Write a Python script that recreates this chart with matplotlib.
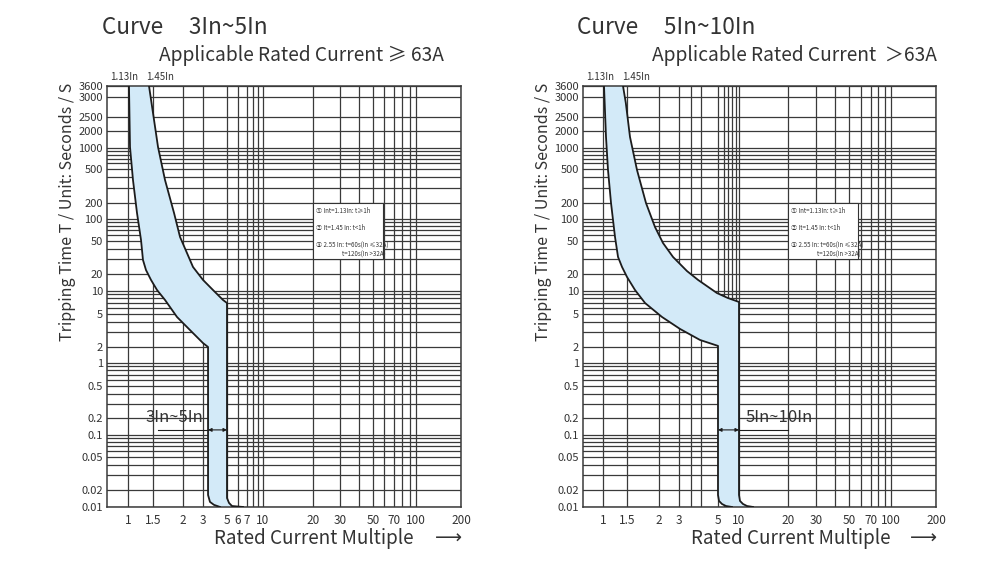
import numpy as np
import matplotlib.pyplot as plt
from matplotlib.patches import Rectangle

plt.rcParams['font.family'] = ['Noto Sans CJK SC', 'DejaVu Sans']

# time axis (seconds): labelled lines and the unlabelled lines in between
t_ticks = [0.01, 0.02, 0.05, 0.1, 0.2, 0.5, 1, 2, 5, 10, 20, 50, 100, 200,
           500, 1000, 2000, 2500, 3000, 3600]
t_labels = ['0.01', '0.02', '0.05', '0.1', '0.2', '0.5', '1', '2', '5', '10',
            '20', '50', '100', '200', '500', '1000', '2000', '2500', '3000', '3600']
t_minor = [0.03, 0.04, 0.06, 0.07, 0.08, 0.09, 0.3, 0.4, 0.6, 0.7, 0.8, 0.9,
           3, 4, 6, 7, 8, 9, 30, 40, 60, 70, 80, 90, 300, 400, 600, 700, 800, 900]

# current multiple axis
b_ticks = [1, 1.5, 2, 3, 5, 6, 7, 10, 20, 30, 50, 70, 100, 200]
b_minor = [8, 9, 40, 60, 80, 90]
c_ticks = [1, 1.5, 2, 3, 5, 10, 20, 30, 50, 70, 100, 200]
c_minor = [3.5, 4, 6, 7, 8, 9, 40, 60, 80, 90]

# 3In~5In band: 1.13In edge (cold) and 1.45In edge (hot)
b_cold_x = [1.016, 1.033, 1.084, 1.157, 1.235, 1.275, 1.339, 1.452, 1.559, 1.683,
            1.888, 2.304, 3.0, 3.34, 3.34, 3.48, 3.79, 4.31]
b_cold_t = [3600, 1040, 372, 130, 51.6, 29.5, 22.3, 15.7, 10.4, 7.63,
            4.6, 3.2, 2.23, 2.0, 0.0163, 0.0123, 0.0109, 0.01]
b_hot_x = [1.406, 1.5, 1.574, 1.683, 1.835, 1.944, 2.168, 2.449, 3.0, 3.71,
           4.59, 5.0, 5.0, 5.17, 5.43, 6.54]
b_hot_t = [3600, 2593, 1040, 372, 130, 56.7, 35.8, 24.3, 15.7, 10.4,
           7.63, 6.96, 0.0144, 0.0118, 0.0104, 0.01]

# 5In~10In band
c_cold_x = [1.017, 1.052, 1.088, 1.145, 1.225, 1.289, 1.379, 1.5, 1.612, 1.764,
            2.125, 3.04, 3.95, 5.0, 5.0, 5.17, 5.70, 6.51, 7.93]
c_cold_t = [3600, 1566, 487, 200, 56.7, 32.1, 24.3, 17.7, 10.4, 6.96,
            4.6, 3.30, 2.43, 2.06, 0.0163, 0.0128, 0.0113, 0.0104, 0.01]
c_hot_x = [1.402, 1.47, 1.541, 1.641, 1.779, 1.929, 2.168, 2.656, 3.33, 3.85,
           4.93, 6.9, 10.0, 10.0, 10.14, 10.58, 11.2, 12.2]
c_hot_t = [3600, 2842, 1566, 487, 200, 77.7, 47.3, 32.1, 21.7, 15.7,
           9.4, 8.1, 7.18, 0.0163, 0.0128, 0.0113, 0.0104, 0.01]

legend_lines = ['\u2460 Int=1.13In: t\u22651h', '\u2461 It=1.45 In: t<1h',
                '\u2462 2.55 In: t=60s(In \u226432A)', 't=120s(In >32A)']

# the printed chart paper is not a true log grid, so map via knots (pixels)
t_knot_px = [0, 17, 50, 72, 89, 121, 144, 160, 193, 216, 233, 266, 288, 304,
             338, 359, 376, 390, 410, 421]
b_knot_x = [0.7, 1, 1.5, 2, 3, 5, 6, 7, 10, 20, 30, 50, 70, 100, 200]
b_knot_px = [0, 21, 46, 76, 96, 120, 131, 140, 156, 206, 233, 266, 287, 309, 354]
c_knot_x = [0.7, 1, 1.5, 2, 3, 5, 10, 20, 30, 50, 70, 100, 200]
c_knot_px = [0, 20, 44, 76, 96, 135, 156, 205, 233, 266, 288, 308, 353]

INK = '#333333'
LINE = '#1c1c1c'
BLUE = '#d3eaf8'


def paper_scale(values, px):
    lv = np.log10(values)

    def fwd(v):
        return np.interp(np.log10(np.clip(v, 1e-9, None)), lv, px)

    def inv(p):
        return 10 ** np.interp(p, px, lv)
    return fwd, inv


def draw_chart(ax, knot_x, knot_px, ticks, minor, cold_x, cold_t, hot_x, hot_t):
    ax.set_xscale('function', functions=paper_scale(knot_x, knot_px))
    ax.set_yscale('function', functions=paper_scale(t_ticks, t_knot_px))
    ax.set_xlim(0.7, 200)
    ax.set_ylim(0.01, 3600)
    ax.set_xticks(ticks)
    ax.set_xticklabels([f'{v:g}' for v in ticks])
    ax.set_xticks(minor, minor=True)
    ax.set_yticks(t_ticks)
    ax.set_yticklabels(t_labels)
    ax.set_yticks(t_minor, minor=True)
    ax.tick_params(which='both', length=0)
    ax.tick_params(axis='x', labelsize=8.5, colors=INK, pad=5)
    ax.tick_params(axis='y', labelsize=8, colors=INK, pad=3)
    ax.set_axisbelow(True)
    ax.grid(which='both', color='#3a3a3a', lw=0.9)
    for s in ax.spines.values():
        s.set_color('#3a3a3a')
        s.set_linewidth(1.1)

    ax.fill(np.r_[cold_x, hot_x[::-1]], np.r_[cold_t, hot_t[::-1]],
            color=BLUE, lw=0, zorder=2)
    ax.plot(cold_x, cold_t, color=LINE, lw=1.3, zorder=3)
    ax.plot(hot_x, hot_t, color=LINE, lw=1.3, zorder=3)

    ax.text(0.048, 1.021, '1.13In', transform=ax.transAxes, fontsize=7,
            color=INK, ha='center', va='center')
    ax.text(0.15, 1.021, '1.45In', transform=ax.transAxes, fontsize=7,
            color=INK, ha='center', va='center')

    # small legend box
    ax.add_patch(Rectangle((0.582, 0.589), 0.198, 0.133, transform=ax.transAxes,
                           facecolor='white', edgecolor=INK, lw=0.8, zorder=4))
    ys = [0.703, 0.663, 0.622, 0.599]
    xs = [0.590, 0.590, 0.590, 0.664]
    for x, y, s in zip(xs, ys, legend_lines):
        ax.text(x, y, s, transform=ax.transAxes, fontsize=4.4, color=INK,
                va='center', ha='left', zorder=5)


fig = plt.figure(figsize=(10, 5.63), dpi=100)
ax_b = fig.add_axes([0.107, 0.0995, 0.354, 0.7478])
ax_c = fig.add_axes([0.583, 0.0995, 0.353, 0.7478])

draw_chart(ax_b, b_knot_x, b_knot_px, b_ticks, b_minor,
           b_cold_x, b_cold_t, b_hot_x, b_hot_t)
draw_chart(ax_c, c_knot_x, c_knot_px, c_ticks, c_minor,
           c_cold_x, c_cold_t, c_hot_x, c_hot_t)

# instantaneous range markers
arrow = dict(arrowstyle='<|-|>', color=LINE, lw=0.8, shrinkA=0, shrinkB=0,
             mutation_scale=5)
ax_b.annotate('', xy=(3.34, 0.123), xytext=(5.0, 0.123), arrowprops=arrow, zorder=5)
ax_b.plot([1.57, 3.34], [0.123, 0.123], color=LINE, lw=0.8, zorder=5)
ax_b.text(3.0, 0.142, '3In~5In', ha='right', va='bottom', fontsize=12, color=INK)

ax_c.annotate('', xy=(5.0, 0.123), xytext=(10.0, 0.123), arrowprops=arrow, zorder=5)
ax_c.plot([10.0, 20.0], [0.123, 0.123], color=LINE, lw=0.8, zorder=5)
ax_c.text(10.9, 0.142, '5In~10In', ha='left', va='bottom', fontsize=12, color=INK)

# titles and axis captions
fig.text(0.102, 0.9503, 'Curve     3In~5In', fontsize=16.3, color=INK, va='center')
fig.text(0.444, 0.9023, 'Applicable Rated Current \u2265 63A', fontsize=13.8,
         color=INK, va='center', ha='right')
fig.text(0.577, 0.9503, 'Curve     5In~10In', fontsize=16.3, color=INK, va='center')
fig.text(0.937, 0.9023, 'Applicable Rated Current  \uff1e63A', fontsize=13.8,
         color=INK, va='center', ha='right')

for x in (0.067, 0.543):
    fig.text(x, 0.6234, 'Tripping Time T / Unit: Seconds / S', rotation=90,
             fontsize=11.5, color=INK, ha='center', va='center')
for x_lab, x_arr in ((0.314, 0.448), (0.791, 0.923)):
    fig.text(x_lab, 0.0444, 'Rated Current Multiple', fontsize=13.6, color=INK,
             ha='center', va='center')
    fig.text(x_arr, 0.0444, '\u27f6', fontsize=13.6, color=INK, ha='center',
             va='center')

fig.savefig('out.png', dpi=100, facecolor='white')
